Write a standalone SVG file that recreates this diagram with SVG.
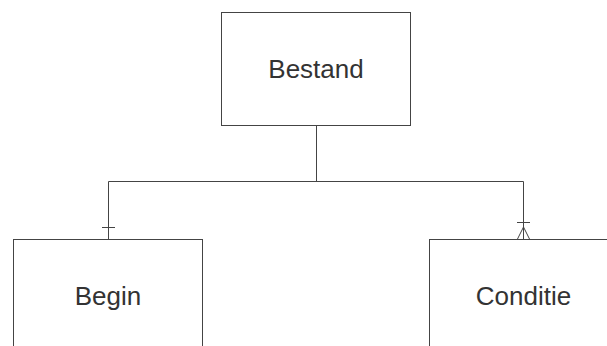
<svg xmlns="http://www.w3.org/2000/svg" width="607" height="346" viewBox="0 0 607 346">
<style>
.box{fill:#ffffff;stroke:#444444;stroke-width:1}
.lbl{font-family:"Liberation Sans",Arial,sans-serif;font-size:26px;fill:#333333;text-anchor:middle}
.conn{fill:none;stroke:#444444;stroke-width:1}
</style>
<rect width="607" height="346" fill="#ffffff"/>
<g id="connectors">
<path class="conn" d="M316.5,125 V181.5 M108.5,181.5 H523.5 M108.5,181.5 V239 M523.5,181.5 V239"/>
<path class="conn" d="M102,227.5 H115"/>
<path class="conn" d="M517,222.5 H530 M523.5,227 L517.5,239 M523.5,227 L529.5,239"/>
</g>
<g id="node-bestand">
<rect class="box" x="221.5" y="12.5" width="189" height="113"/>
<text class="lbl" x="316" y="78">Bestand</text>
</g>
<g id="node-begin">
<rect class="box" x="13.5" y="239.5" width="189" height="120"/>
<text class="lbl" x="108" y="305">Begin</text>
</g>
<g id="node-conditie">
<rect class="box" x="429.5" y="239.5" width="189" height="120"/>
<text class="lbl" x="523.5" y="305">Conditie</text>
</g>
</svg>
